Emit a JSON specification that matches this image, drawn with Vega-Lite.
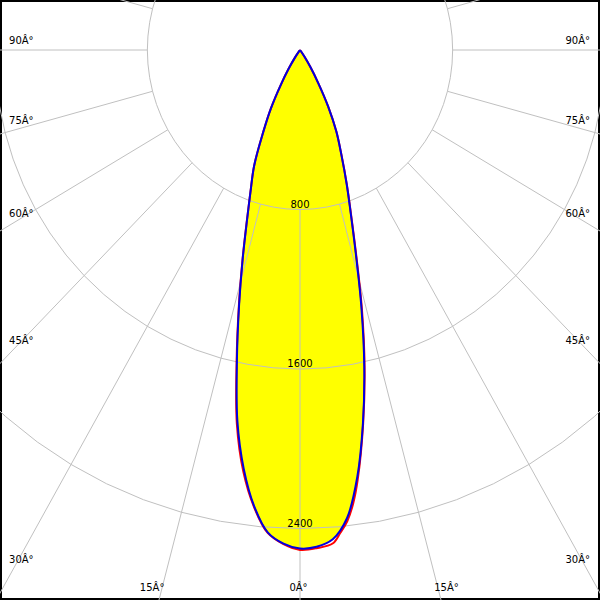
{
  "$schema": "https://vega.github.io/schema/vega-lite/v6.json",
  "width": 600,
  "height": 600,
  "autosize": {"type": "none"},
  "padding": 0,
  "background": "white",
  "config": {"view": {"stroke": "black", "strokeWidth": 4}},
  "datasets": {
    "curves": [
      {"plane": "C0-C180", "a": -90, "I": 0},
      {"plane": "C0-C180", "a": -40, "I": 0},
      {"plane": "C0-C180", "a": -37.5, "I": 10},
      {"plane": "C0-C180", "a": -35, "I": 45},
      {"plane": "C0-C180", "a": -32.5, "I": 110},
      {"plane": "C0-C180", "a": -30, "I": 200},
      {"plane": "C0-C180", "a": -27.5, "I": 330},
      {"plane": "C0-C180", "a": -25, "I": 460},
      {"plane": "C0-C180", "a": -22.5, "I": 628},
      {"plane": "C0-C180", "a": -20, "I": 760},
      {"plane": "C0-C180", "a": -18, "I": 900},
      {"plane": "C0-C180", "a": -16, "I": 1090},
      {"plane": "C0-C180", "a": -14, "I": 1320},
      {"plane": "C0-C180", "a": -12, "I": 1590},
      {"plane": "C0-C180", "a": -10, "I": 1890},
      {"plane": "C0-C180", "a": -8, "I": 2120},
      {"plane": "C0-C180", "a": -6, "I": 2300},
      {"plane": "C0-C180", "a": -4, "I": 2425},
      {"plane": "C0-C180", "a": -2, "I": 2477},
      {"plane": "C0-C180", "a": 0, "I": 2500},
      {"plane": "C0-C180", "a": 2, "I": 2493},
      {"plane": "C0-C180", "a": 4, "I": 2460},
      {"plane": "C0-C180", "a": 6, "I": 2360},
      {"plane": "C0-C180", "a": 8, "I": 2160},
      {"plane": "C0-C180", "a": 10, "I": 1900},
      {"plane": "C0-C180", "a": 12, "I": 1620},
      {"plane": "C0-C180", "a": 14, "I": 1330},
      {"plane": "C0-C180", "a": 16, "I": 1060},
      {"plane": "C0-C180", "a": 18, "I": 860},
      {"plane": "C0-C180", "a": 20, "I": 715},
      {"plane": "C0-C180", "a": 22.5, "I": 565},
      {"plane": "C0-C180", "a": 25, "I": 450},
      {"plane": "C0-C180", "a": 27.5, "I": 320},
      {"plane": "C0-C180", "a": 30, "I": 190},
      {"plane": "C0-C180", "a": 32.5, "I": 100},
      {"plane": "C0-C180", "a": 35, "I": 40},
      {"plane": "C0-C180", "a": 37.5, "I": 5},
      {"plane": "C0-C180", "a": 40, "I": 0},
      {"plane": "C0-C180", "a": 90, "I": 0},
      {"plane": "C90-C270", "a": -90, "I": 0},
      {"plane": "C90-C270", "a": -40, "I": 0},
      {"plane": "C90-C270", "a": -37.5, "I": 10},
      {"plane": "C90-C270", "a": -35, "I": 45},
      {"plane": "C90-C270", "a": -32.5, "I": 110},
      {"plane": "C90-C270", "a": -30, "I": 200},
      {"plane": "C90-C270", "a": -27.5, "I": 330},
      {"plane": "C90-C270", "a": -25, "I": 460},
      {"plane": "C90-C270", "a": -22.5, "I": 628},
      {"plane": "C90-C270", "a": -20, "I": 760},
      {"plane": "C90-C270", "a": -18, "I": 902},
      {"plane": "C90-C270", "a": -16, "I": 1092},
      {"plane": "C90-C270", "a": -14, "I": 1325},
      {"plane": "C90-C270", "a": -12, "I": 1598},
      {"plane": "C90-C270", "a": -10, "I": 1905},
      {"plane": "C90-C270", "a": -8, "I": 2135},
      {"plane": "C90-C270", "a": -6, "I": 2305},
      {"plane": "C90-C270", "a": -4, "I": 2428},
      {"plane": "C90-C270", "a": -2, "I": 2480},
      {"plane": "C90-C270", "a": 0, "I": 2507},
      {"plane": "C90-C270", "a": 2, "I": 2500},
      {"plane": "C90-C270", "a": 4, "I": 2480},
      {"plane": "C90-C270", "a": 5, "I": 2430},
      {"plane": "C90-C270", "a": 6, "I": 2375},
      {"plane": "C90-C270", "a": 7, "I": 2290},
      {"plane": "C90-C270", "a": 8, "I": 2175},
      {"plane": "C90-C270", "a": 10, "I": 1905},
      {"plane": "C90-C270", "a": 12, "I": 1628},
      {"plane": "C90-C270", "a": 14, "I": 1342},
      {"plane": "C90-C270", "a": 16, "I": 1068},
      {"plane": "C90-C270", "a": 18, "I": 865},
      {"plane": "C90-C270", "a": 20, "I": 718},
      {"plane": "C90-C270", "a": 22.5, "I": 566},
      {"plane": "C90-C270", "a": 25, "I": 450},
      {"plane": "C90-C270", "a": 27.5, "I": 320},
      {"plane": "C90-C270", "a": 30, "I": 190},
      {"plane": "C90-C270", "a": 32.5, "I": 100},
      {"plane": "C90-C270", "a": 35, "I": 40},
      {"plane": "C90-C270", "a": 37.5, "I": 5},
      {"plane": "C90-C270", "a": 40, "I": 0},
      {"plane": "C90-C270", "a": 90, "I": 0}
    ],
    "angles": [
      {"a": 0}, {"a": 5}, {"a": 10}, {"a": 15}, {"a": 20}, {"a": 25}, {"a": 30}, {"a": 35}, {"a": 40}, {"a": 45},
      {"a": 50}, {"a": 55}, {"a": 60}, {"a": 65}, {"a": 70}, {"a": 75}, {"a": 80}, {"a": 85}, {"a": 90}, {"a": 95},
      {"a": 100}, {"a": 105}, {"a": 110}, {"a": 115}, {"a": 120}, {"a": 125}, {"a": 130}, {"a": 135}, {"a": 140}, {"a": 145},
      {"a": 150}, {"a": 155}, {"a": 160}, {"a": 165}, {"a": 170}, {"a": 175}, {"a": 180}, {"a": 185}, {"a": 190}, {"a": 195},
      {"a": 200}, {"a": 205}, {"a": 210}, {"a": 215}, {"a": 220}, {"a": 225}, {"a": 230}, {"a": 235}, {"a": 240}, {"a": 245},
      {"a": 250}, {"a": 255}, {"a": 260}, {"a": 265}, {"a": 270}, {"a": 275}, {"a": 280}, {"a": 285}, {"a": 290}, {"a": 295},
      {"a": 300}, {"a": 305}, {"a": 310}, {"a": 315}, {"a": 320}, {"a": 325}, {"a": 330}, {"a": 335}, {"a": 340}, {"a": 345},
      {"a": 350}, {"a": 355}, {"a": 360}
    ],
    "rings": [{"r": 800}, {"r": 1600}, {"r": 2400}],
    "angleLabels": [
      {"a": -90, "t": "90Â°"}, {"a": -75, "t": "75Â°"}, {"a": -60, "t": "60Â°"}, {"a": -45, "t": "45Â°"}, {"a": -30, "t": "30Â°"},
      {"a": -15, "t": "15Â°"}, {"a": 0, "t": "0Â°"}, {"a": 15, "t": "15Â°"},
      {"a": 30, "t": "30Â°"}, {"a": 45, "t": "45Â°"}, {"a": 60, "t": "60Â°"}, {"a": 75, "t": "75Â°"}, {"a": 90, "t": "90Â°"}
    ]
  },
  "encoding": {
    "x": {"field": "x", "type": "quantitative", "scale": {"domain": [-1572.3, 1572.3], "nice": false, "zero": false}, "axis": null},
    "y": {"field": "y", "type": "quantitative", "scale": {"domain": [-2758.3, 250.8], "nice": false, "zero": false}, "axis": null}
  },
  "layer": [
    {
      "data": {"name": "curves"},
      "transform": [
        {"filter": "datum.plane == 'C0-C180'"},
        {"calculate": "datum.I*sin(datum.a*PI/180)", "as": "x"},
        {"calculate": "-datum.I*cos(datum.a*PI/180)", "as": "y"}
      ],
      "mark": {"type": "line", "fill": "#ffff00", "strokeOpacity": 0, "interpolate": "catmull-rom", "clip": true},
      "encoding": {"order": {"field": "a", "type": "quantitative"}}
    },
    {
      "data": {"name": "rings"},
      "transform": [
        {"calculate": "0", "as": "x"},
        {"calculate": "-datum.r", "as": "y"}
      ],
      "mark": {"type": "text", "font": "DejaVu Sans", "fontSize": 10, "color": "black", "align": "center", "baseline": "alphabetic", "dy": -2},
      "encoding": {"text": {"field": "r", "type": "quantitative", "format": "d"}}
    },
    {
      "data": {"name": "angles"},
      "transform": [
        {"calculate": "[800, 1600, 2400]", "as": "r"},
        {"flatten": ["r"]},
        {"calculate": "datum.r*sin(datum.a*PI/180)", "as": "x"},
        {"calculate": "-datum.r*cos(datum.a*PI/180)", "as": "y"}
      ],
      "mark": {"type": "line", "color": "#c0c0c0", "strokeWidth": 1, "clip": true},
      "encoding": {"detail": {"field": "r", "type": "nominal"}, "order": {"field": "a", "type": "quantitative"}}
    },
    {
      "data": {"name": "angles"},
      "transform": [
        {"filter": "datum.a % 15 == 0 && datum.a < 360"},
        {"calculate": "800*sin(datum.a*PI/180)", "as": "x"},
        {"calculate": "-800*cos(datum.a*PI/180)", "as": "y"},
        {"calculate": "6000*sin(datum.a*PI/180)", "as": "x2"},
        {"calculate": "-6000*cos(datum.a*PI/180)", "as": "y2"}
      ],
      "mark": {"type": "rule", "color": "#c0c0c0", "strokeWidth": 1, "clip": true},
      "encoding": {"x2": {"field": "x2"}, "y2": {"field": "y2"}}
    },
    {
      "data": {"name": "curves"},
      "transform": [
        {"filter": "datum.plane == 'C90-C270'"},
        {"calculate": "datum.I*sin(datum.a*PI/180)", "as": "x"},
        {"calculate": "-datum.I*cos(datum.a*PI/180)", "as": "y"}
      ],
      "mark": {"type": "line", "color": "#ff0000", "strokeWidth": 2, "interpolate": "catmull-rom", "clip": true},
      "encoding": {"order": {"field": "a", "type": "quantitative"}}
    },
    {
      "data": {"name": "curves"},
      "transform": [
        {"filter": "datum.plane == 'C0-C180'"},
        {"calculate": "datum.I*sin(datum.a*PI/180)", "as": "x"},
        {"calculate": "-datum.I*cos(datum.a*PI/180)", "as": "y"}
      ],
      "mark": {"type": "line", "color": "#0000e0", "strokeWidth": 2, "interpolate": "catmull-rom", "clip": true},
      "encoding": {"order": {"field": "a", "type": "quantitative"}}
    },
    {
      "data": {"name": "angleLabels"},
      "transform": [
        {"filter": "datum.a <= -30"},
        {"calculate": "-1525", "as": "x"},
        {"calculate": "-1504/tan(abs(datum.a)*PI/180)", "as": "y"}
      ],
      "mark": {"type": "text", "font": "DejaVu Sans", "fontSize": 10, "color": "black", "align": "left", "baseline": "middle", "dy": -9},
      "encoding": {"text": {"field": "t", "type": "nominal"}}
    },
    {
      "data": {"name": "angleLabels"},
      "transform": [
        {"filter": "datum.a >= 30"},
        {"calculate": "1520", "as": "x"},
        {"calculate": "-1504/tan(abs(datum.a)*PI/180)", "as": "y"}
      ],
      "mark": {"type": "text", "font": "DejaVu Sans", "fontSize": 10, "color": "black", "align": "right", "baseline": "middle", "dy": -9},
      "encoding": {"text": {"field": "t", "type": "nominal"}}
    },
    {
      "data": {"name": "angleLabels"},
      "transform": [
        {"filter": "abs(datum.a) < 30"},
        {"calculate": "2698*tan(datum.a*PI/180) + (datum.a < 0 ? -52 : (datum.a > 0 ? 45 : -8))", "as": "x"},
        {"calculate": "-2698", "as": "y"}
      ],
      "mark": {"type": "text", "font": "DejaVu Sans", "fontSize": 10, "color": "black", "align": "center", "baseline": "middle"},
      "encoding": {"text": {"field": "t", "type": "nominal"}}
    }
  ]
}
